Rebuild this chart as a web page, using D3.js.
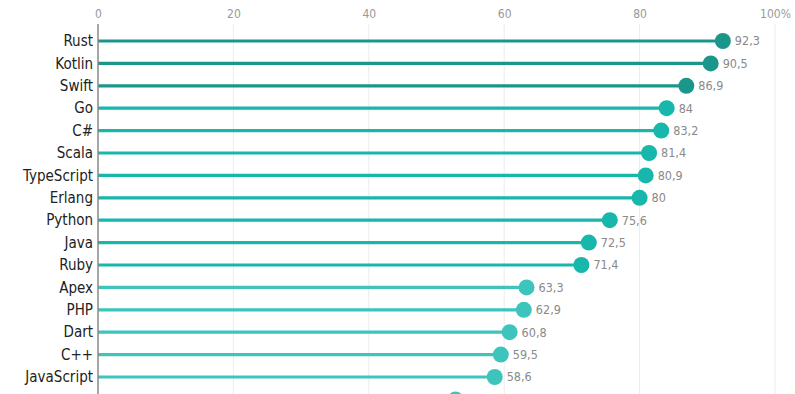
<!DOCTYPE html>
<html><head><meta charset="utf-8">
<script src="https://cdn.jsdelivr.net/npm/d3@7"></script>
<style>body{margin:0;background:#fff;}svg{display:block;}</style>
</head><body>
<svg id="c" width="795" height="394"></svg>
<script>
const languages = ["Rust","Kotlin","Swift","Go","C#","Scala","TypeScript","Erlang","Python","Java","Ruby","Apex","PHP","Dart","C++","JavaScript","C"];
const scores = [92.3,90.5,86.9,84,83.2,81.4,80.9,80,75.6,72.5,71.4,63.3,62.9,60.8,59.5,58.6,52.8];
const groups = [0,0,0,1,1,1,1,1,1,1,1,2,2,2,2,2,2];
const groupColors = ["#1b968a","#17b7ab","#3dc5bd"];
const tickValues = [0,20,40,60,80,100];

const W = 795, H = 394;
const svg = d3.select("#c");
const x0 = 98, x1 = 775, rowStep = 22.4, y0 = 41;
const x = d3.scaleLinear().domain([0,100]).range([x0,x1]);
const y = d3.scalePoint().domain(languages).range([y0, y0 + rowStep*(languages.length-1)]);
const font = "'DejaVu Sans Condensed','Liberation Sans Narrow',sans-serif";
const visible = languages.filter(d => y(d) + 6 < H);

// grid
svg.append("g").selectAll("line").data(tickValues.slice(1)).join("line")
  .attr("x1", d=>x(d)).attr("x2", d=>x(d)).attr("y1", 24).attr("y2", H)
  .attr("stroke", "#ececec").attr("stroke-width", 1);

// top axis
const ax = svg.append("g").attr("transform", "translate(0,24)")
  .call(d3.axisTop(x).tickValues(tickValues).tickSize(0).tickPadding(6)
    .tickFormat(d => d===100 ? "100%" : d));
ax.select(".domain").remove();
ax.selectAll("text").attr("fill","#999").style("font-family", font).style("font-size","12px");

// stems
svg.append("g").selectAll("line").data(languages).join("line")
  .attr("x1", x(0)).attr("x2", (d,i)=>x(scores[i]))
  .attr("y1", d=>y(d)).attr("y2", d=>y(d))
  .attr("stroke", (d,i)=>groupColors[groups[i]]).attr("stroke-width", 3.2);

// left axis line
svg.append("line").attr("x1", x0).attr("x2", x0).attr("y1", 24).attr("y2", H)
  .attr("stroke", "#888").attr("stroke-width", 1.5);

// circles
svg.append("g").selectAll("circle").data(languages).join("circle")
  .attr("cx", (d,i)=>x(scores[i])).attr("cy", d=>y(d)).attr("r", 8)
  .attr("fill", (d,i)=>groupColors[groups[i]]);

// category labels (only rows inside the picture)
svg.append("g").selectAll("text").data(visible).join("text")
  .attr("x", x0 - 5).attr("y", d=>y(d)).attr("dy","0.35em")
  .attr("text-anchor","end").attr("fill","#222")
  .style("font-family", font).style("font-size","15px")
  .text(d=>d);

// value labels
svg.append("g").selectAll("text").data(visible).join("text")
  .attr("x", d=>x(scores[languages.indexOf(d)]) + 12).attr("y", d=>y(d)).attr("dy","0.35em")
  .attr("fill","#8a8a8a")
  .style("font-family", font).style("font-size","12.5px")
  .text(d=>String(scores[languages.indexOf(d)]).replace(".", ","));
</script>
</body></html>
